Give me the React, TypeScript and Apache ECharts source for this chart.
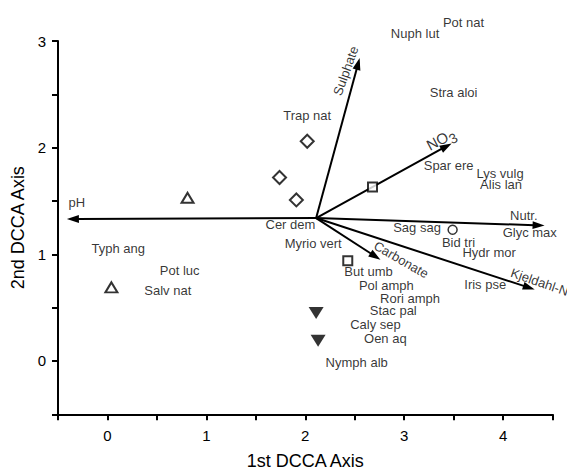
import React, { useEffect, useRef } from "react";
import * as echarts from "echarts";

// Environmental vectors (DCCA biplot)
const vectorOrigin = [2.11, 1.34];
const vectorNames = ["pH", "Sulphate", "NO3", "Nutr.", "Carbonate", "Kjeldahl-N"];
const vectorEndX = [-0.41, 2.55, 3.48, 4.42, 2.76, 4.32];
const vectorEndY = [1.33, 2.84, 2.04, 1.27, 0.95, 0.67];
const vectorLabelX = [-0.31, 2.41, 3.37, 4.21, 2.97, 4.37];
const vectorLabelY = [1.49, 2.72, 2.08, 1.36, 0.95, 0.74];
const vectorLabelRotate = [0, 70, 28, 0, -30, -19];

// Species labels
const speciesNames = [
  "Pot nat", "Nuph lut", "Stra aloi", "Trap nat", "Spar ere", "Lys vulg", "Alis lan",
  "Cer dem", "Myrio vert", "Sag sag", "Glyc max", "Bid tri", "Hydr mor", "Typh ang",
  "Pot luc", "Salv nat", "But umb", "Pol amph", "Iris pse", "Rori amph", "Stac pal",
  "Caly sep", "Oen aq", "Nymph alb",
];
const speciesX = [
  3.6, 3.11, 3.5, 2.02, 3.45, 3.97, 3.98,
  1.85, 2.08, 3.13, 4.27, 3.55, 3.86, 0.11,
  0.73, 0.61, 2.64, 2.82, 3.82, 3.06, 2.89,
  2.71, 2.81, 2.52,
];
const speciesY = [
  3.17, 3.07, 2.52, 2.3, 1.83, 1.76, 1.65,
  1.28, 1.1, 1.25, 1.2, 1.11, 1.02, 1.05,
  0.85, 0.66, 0.84, 0.71, 0.72, 0.59, 0.47,
  0.34, 0.21, -0.01,
];

// Sample symbols
const openTriX = [0.81, 0.04];
const openTriY = [1.53, 0.69];
const diamondX = [2.02, 1.74, 1.91];
const diamondY = [2.06, 1.72, 1.51];
const squareX = [2.68, 2.43];
const squareY = [1.63, 0.94];
const circleX = [3.49];
const circleY = [1.23];
const filledTriX = [2.11, 2.13];
const filledTriY = [0.45, 0.19];

const FONT = "'Liberation Sans', Arial, Helvetica, sans-serif";

const pts = (xs: number[], ys: number[]) => xs.map((x, i) => [x, ys[i]]);

export default function App() {
  const ref = useRef<HTMLDivElement>(null);

  useEffect(() => {
    document.body.style.margin = "0";
    const chart = echarts.init(ref.current!, null, { renderer: "svg" });

    const openStyle = { color: "#ffffff", borderColor: "#000", borderWidth: 2 };

    const axisCommon = {
      type: "value" as const,
      interval: 0.5,
      splitLine: { show: false },
      axisLine: { show: true, onZero: false, lineStyle: { color: "#000", width: 2 } },
      axisTick: { show: true, length: 6, lineStyle: { color: "#000", width: 2 } },
      nameLocation: "middle" as const,
      nameTextStyle: { color: "#000", fontSize: 18, fontFamily: FONT },
    };

    const textLabel = {
      show: true,
      position: "inside",
      color: "#000",
      fontSize: 13,
      fontFamily: FONT,
      textBorderWidth: 0,
      textShadowBlur: 0,
    };

    const option: any = {
      animation: false,
      backgroundColor: "#fff",
      grid: {
        left: 58,
        right: 14.5,
        top: 41,
        bottom: 55.7,
        containLabel: false,
        outerBoundsMode: "none",
      },
      xAxis: {
        ...axisCommon,
        min: -0.5,
        max: 4.5,
        name: "1st DCCA Axis",
        nameGap: 38,
        axisLabel: {
          color: "#000",
          fontSize: 15,
          fontFamily: FONT,
          margin: 14,
          formatter: (v: number) => (Number.isInteger(v) && v >= 0 && v <= 4 ? String(v) : ""),
        },
      },
      yAxis: {
        ...axisCommon,
        min: -0.5,
        max: 3,
        name: "2nd DCCA Axis",
        nameGap: 24,
        axisLabel: {
          color: "#000",
          fontSize: 15,
          fontFamily: FONT,
          margin: 12,
          formatter: (v: number) => (Number.isInteger(v) && v >= 0 ? String(v) : ""),
        },
      },
      series: [
        {
          type: "custom",
          clip: false,
          z: 2,
          encode: { x: [0, 2], y: [1, 3] },
          data: vectorNames.map((_, i) => [vectorOrigin[0], vectorOrigin[1], vectorEndX[i], vectorEndY[i]]),
          renderItem: (_params: any, api: any) => {
            const p0 = api.coord([api.value(0), api.value(1)]);
            const p1 = api.coord([api.value(2), api.value(3)]);
            const dx = p1[0] - p0[0];
            const dy = p1[1] - p0[1];
            const len = Math.hypot(dx, dy);
            const ux = dx / len;
            const uy = dy / len;
            const L = 12;
            const W = 4;
            const bx = p1[0] - ux * L;
            const by = p1[1] - uy * L;
            return {
              type: "group",
              children: [
                {
                  type: "line",
                  shape: { x1: p0[0], y1: p0[1], x2: bx + ux * 2, y2: by + uy * 2 },
                  style: { stroke: "#000", lineWidth: 2 },
                },
                {
                  type: "polygon",
                  shape: {
                    points: [
                      [p1[0], p1[1]],
                      [bx - uy * W, by + ux * W],
                      [bx + uy * W, by - ux * W],
                    ],
                  },
                  style: { fill: "#000" },
                },
              ],
            };
          },
        },
        {
          type: "scatter",
          z: 3,
          clip: false,
          symbol: "circle",
          symbolSize: 1,
          itemStyle: { color: "rgba(0,0,0,0)" },
          data: vectorNames.map((n, i) => ({
            name: n,
            value: [vectorLabelX[i], vectorLabelY[i]],
            label: { rotate: vectorLabelRotate[i] },
          })),
          label: {
            ...textLabel,
            formatter: (p: any) => (p.name === "NO3" ? "{n|NO}{s|3}" : p.name),
            rich: {
              n: { fontSize: 15, fontFamily: FONT, color: "#000" },
              s: { fontSize: 14, fontFamily: FONT, color: "#000", padding: [10, 0, 0, 0] },
            },
          },
          silent: true,
        },
        {
          type: "scatter",
          z: 3,
          clip: false,
          symbol: "circle",
          symbolSize: 1,
          itemStyle: { color: "rgba(0,0,0,0)" },
          data: speciesNames.map((n, i) => ({ name: n, value: [speciesX[i], speciesY[i]] })),
          label: { ...textLabel, formatter: "{b}" },
          silent: true,
        },
        {
          type: "scatter",
          z: 4,
          clip: false,
          symbol: "triangle",
          symbolSize: [12, 10],
          itemStyle: openStyle,
          data: pts(openTriX, openTriY),
        },
        {
          type: "scatter",
          z: 4,
          clip: false,
          symbol: "diamond",
          symbolSize: 13,
          itemStyle: openStyle,
          data: pts(diamondX, diamondY),
        },
        {
          type: "scatter",
          z: 4,
          clip: false,
          symbol: "rect",
          symbolSize: 9,
          itemStyle: openStyle,
          data: pts(squareX, squareY),
        },
        {
          type: "scatter",
          z: 4,
          clip: false,
          symbol: "circle",
          symbolSize: 9,
          itemStyle: { color: "#fff", borderColor: "#000", borderWidth: 1.5 },
          data: pts(circleX, circleY),
        },
        {
          type: "scatter",
          z: 4,
          clip: false,
          symbol: "triangle",
          symbolRotate: 180,
          symbolSize: [15, 12],
          itemStyle: { color: "#000" },
          data: pts(filledTriX, filledTriY),
        },
      ],
    };

    chart.setOption(option);
    return () => chart.dispose();
  }, []);

  return <div ref={ref} style={{ width: 567, height: 470 }} />;
}
